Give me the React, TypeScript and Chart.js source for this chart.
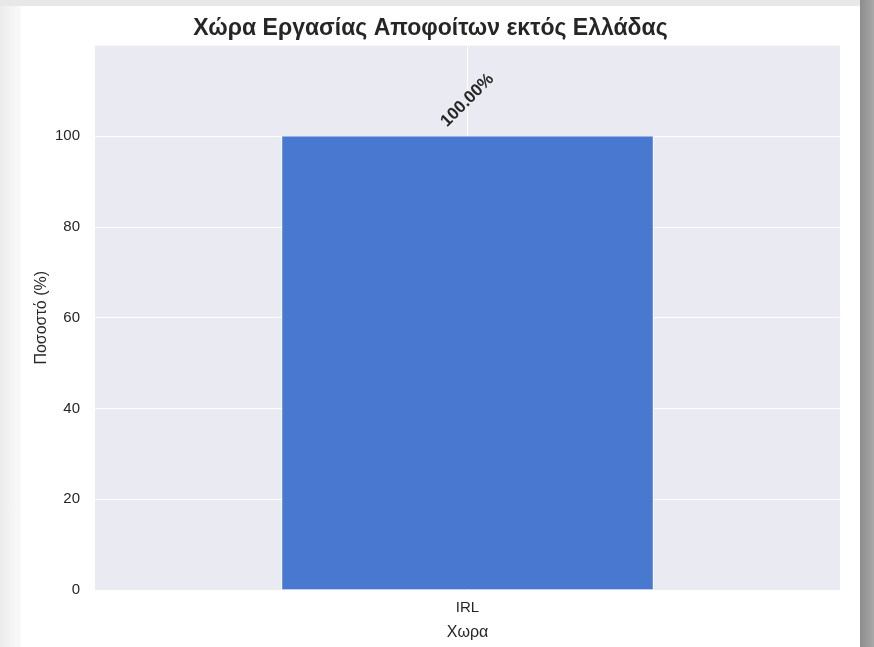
import React, { useEffect, useRef } from "react";
import { Chart, registerables } from "chart.js";

Chart.register(...registerables);

const categories = ["IRL"];
const percentages = [100];
const valueLabels = ["100.00%"];
const yTicks = [0, 20, 40, 60, 80, 100];

const titleText = "Χώρα Εργασίας Αποφοίτων εκτός Ελλάδας";
const xTitle = "Χωρα";
const yTitle = "Ποσοστό (%)";

const FONT = "'Liberation Sans', Arial, Helvetica, sans-serif";

const bgPlugin = {
  id: "plotBg",
  beforeDraw(chart: any) {
    const { ctx, chartArea } = chart;
    ctx.save();
    ctx.fillStyle = "#eaeaf2";
    ctx.fillRect(chartArea.left, chartArea.top, chartArea.right - chartArea.left, chartArea.bottom - chartArea.top);
    ctx.restore();
  },
};

const labelPlugin = {
  id: "valueLabels",
  afterDatasetsDraw(chart: any) {
    const { ctx } = chart;
    const meta = chart.getDatasetMeta(0);
    meta.data.forEach((bar: any, i: number) => {
      ctx.save();
      ctx.translate(bar.x, bar.y - 36);
      ctx.rotate(-Math.PI / 4);
      ctx.font = `bold 17px ${FONT}`;
      ctx.fillStyle = "#262626";
      ctx.textAlign = "center";
      ctx.textBaseline = "middle";
      ctx.fillText(valueLabels[i], 0, 0);
      ctx.restore();
    });
  },
};

export default function App() {
  const ref = useRef<HTMLCanvasElement | null>(null);
  useEffect(() => {
    if (!ref.current) return;
    const chart = new Chart(ref.current, {
      type: "bar",
      data: {
        labels: categories,
        datasets: [
          {
            data: percentages,
            backgroundColor: "#4878d0",
            borderColor: "#ffffff",
            borderWidth: { left: 1, right: 1, top: 0, bottom: 0 } as any,
            barPercentage: 0.5,
            categoryPercentage: 1,
          },
        ],
      },
      options: {
        animation: false,
        responsive: false,
        layout: { padding: { left: 0, right: 20, top: 0, bottom: 0 } },
        plugins: {
          legend: { display: false },
          tooltip: { enabled: false },
          title: {
            display: true,
            text: titleText,
            color: "#262626",
            font: { family: FONT, size: 23, weight: "bold" },
            padding: { top: 9, bottom: 3 },
          },
        },
        scales: {
          x: {
            afterFit(scale: any) {
              scale.height = 57;
            },
            grid: { color: "#ffffff", lineWidth: 1, offset: false, drawTicks: false },
            border: { display: false },
            ticks: { color: "#262626", font: { family: FONT, size: 15 }, padding: 9 },
            title: {
              display: true,
              text: xTitle,
              color: "#262626",
              font: { family: FONT, size: 16 },
              padding: { top: 0, bottom: 5 },
            },
          },
          y: {
            min: 0,
            max: 120,
            afterFit(scale: any) {
              scale.width = 74;
            },
            afterBuildTicks(scale: any) {
              scale.ticks = yTicks.map((v) => ({ value: v }));
            },
            grid: { color: "#ffffff", lineWidth: 1, drawTicks: false },
            border: { display: false },
            ticks: { color: "#262626", font: { family: FONT, size: 15 }, padding: 15 },
            title: {
              display: true,
              text: yTitle,
              color: "#262626",
              font: { family: FONT, size: 16 },
              padding: { top: 11, bottom: 0 },
            },
          },
        },
      },
      plugins: [bgPlugin, labelPlugin],
    });
    return () => chart.destroy();
  }, []);

  return (
    <div
      style={{
        position: "fixed",
        left: 0,
        top: 0,
        width: 874,
        height: 647,
        background: "linear-gradient(to right, #ececec 0px, #fafafa 21px)",
        overflow: "hidden",
      }}
    >
      <div style={{ position: "absolute", left: 0, top: 0, width: 874, height: 6, background: "#e8e8e8" }} />
      <div style={{ position: "absolute", left: 860, top: 0, width: 14, height: 647, background: "linear-gradient(to right, #8c8c8c, #a8a8a8)" }} />
      <div style={{ position: "absolute", left: 21, top: 6, width: 839, height: 641, background: "#ffffff" }}>
        <canvas ref={ref} width={839} height={641} style={{ display: "block" }} />
      </div>
    </div>
  );
}
